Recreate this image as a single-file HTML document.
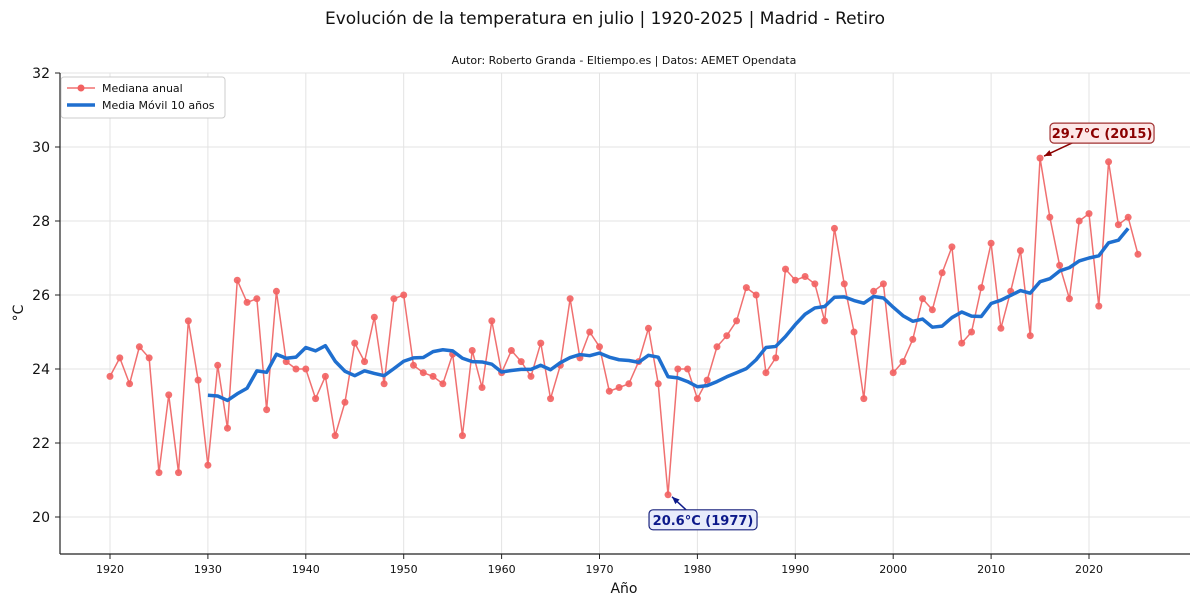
<!DOCTYPE html>
<html><head><meta charset="utf-8"><style>
body{margin:0;background:#fff;}
svg text{font-family:"DejaVu Sans","Liberation Sans",sans-serif;}
</style></head><body>
<svg id="chart" width="1200" height="606" viewBox="0 0 1200 606" xmlns="http://www.w3.org/2000/svg">
<text x="605" y="24" font-size="17" text-anchor="middle" fill="#111">Evolución de la temperatura en julio | 1920-2025 | Madrid - Retiro</text>
<text x="624" y="64" font-size="11" text-anchor="middle" fill="#111">Autor: Roberto Granda - Eltiempo.es | Datos: AEMET Opendata</text>
<g id="grid"></g>
<g id="axes"></g>
<g id="series"></g>
<text x="624" y="593" font-size="14" text-anchor="middle" fill="#111">Año</text>
<text x="23" y="313" font-size="14" text-anchor="middle" fill="#111" transform="rotate(-90 23 313)">°C</text>
<g>
<rect x="61" y="77" width="164" height="41" rx="3" fill="#fff" stroke="#ccc"/>
<line x1="67" y1="88" x2="95" y2="88" stroke="#f07070" stroke-width="1.5"/>
<circle cx="81" cy="88" r="3.5" fill="#f26060"/>
<text x="102" y="92" font-size="11" fill="#111">Mediana anual</text>
<line x1="67" y1="105" x2="95" y2="105" stroke="#1f6fcf" stroke-width="3.5"/>
<text x="102" y="109" font-size="11" fill="#111">Media Móvil 10 años</text>
</g>
<g id="ann"></g>
</svg>
<script>
const years = []; for (let y = 1920; y <= 2025; y++) years.push(y);
const medianTemps = [23.8,24.3,23.6,24.6,24.3,21.2,23.3,21.2,25.3,23.7,
21.4,24.1,22.4,26.4,25.8,25.9,22.9,26.1,24.2,24.0,
24.0,23.2,23.8,22.2,23.1,24.7,24.2,25.4,23.6,25.9,
26.0,24.1,23.9,23.8,23.6,24.4,22.2,24.5,23.5,25.3,
23.9,24.5,24.2,23.8,24.7,23.2,24.1,25.9,24.3,25.0,
24.6,23.4,23.5,23.6,24.2,25.1,23.6,20.6,24.0,24.0,
23.2,23.7,24.6,24.9,25.3,26.2,26.0,23.9,24.3,26.7,
26.4,26.5,26.3,25.3,27.8,26.3,25.0,23.2,26.1,26.3,
23.9,24.2,24.8,25.9,25.6,26.6,27.3,24.7,25.0,26.2,
27.4,25.1,26.1,27.2,24.9,29.7,28.1,26.8,25.9,28.0,
28.2,25.7,29.6,27.9,28.1,27.1];
const yTicks = [20,22,24,26,28,30,32];
const xTicks = [1920,1930,1940,1950,1960,1970,1980,1990,2000,2010,2020];
const windowSize = 10;

const X = v => 110 + (v - 1920) * 9.79;
const Y = v => 517 - (v - 20) * 37;
const NS = 'http://www.w3.org/2000/svg';
function mk(tag, attrs, parent){const e=document.createElementNS(NS,tag);for(const k in attrs)e.setAttribute(k,attrs[k]);parent.appendChild(e);return e;}
const grid=document.getElementById('grid'), axes=document.getElementById('axes'), series=document.getElementById('series'), ann=document.getElementById('ann');

yTicks.forEach(t=>{
  const l=mk('line',{x1:60,x2:1190,y1:Y(t),y2:Y(t),stroke:'#e3e3e3','stroke-width':1},grid);
  
  
  const tk=mk('line',{x1:55,x2:60,y1:Y(t),y2:Y(t),stroke:'#222'},axes);
  
  
  const tx=mk('text',{x:50,y:Y(t)+5,'font-size':14,'text-anchor':'end',fill:'#111'},axes);
  tx.textContent=t;
  
  
});
xTicks.forEach(t=>{
  const l=mk('line',{x1:X(t),x2:X(t),y1:73,y2:554,stroke:'#e3e3e3','stroke-width':1},grid);
  
  
  const tk=mk('line',{x1:X(t),x2:X(t),y1:554,y2:559,stroke:'#222'},axes);
  
  
  const tx=mk('text',{x:X(t),y:573,'font-size':11,'text-anchor':'middle',fill:'#111'},axes);
  tx.textContent=t;
  
  
});
const ys=mk('line',{x1:60,x2:60,y1:73,y2:554,stroke:'#222','stroke-width':1.2},axes);


const xs=mk('line',{x1:60,x2:1190,y1:554,y2:554,stroke:'#222','stroke-width':1.2},axes);



const mp=mk('polyline',{points:years.map((y,i)=>X(y)+','+Y(medianTemps[i])).join(' '),fill:'none',stroke:'#f07070','stroke-width':1.5},series);


years.forEach((y,i)=>{
  const c=mk('circle',{cx:X(y),cy:Y(medianTemps[i]),r:3.5,fill:'#f26060','fill-opacity':0.9},series);
  
  
});
const maPts=[];
for(let i=windowSize;i<years.length-1;i++){
  let s=0;for(let j=i-windowSize+1;j<=i;j++)s+=medianTemps[j];
  maPts.push(X(years[i])+','+Y(s/windowSize));
}
const ma=mk('polyline',{points:maPts.join(' '),fill:'none',stroke:'#1f6fcf','stroke-width':3.5,'stroke-linejoin':'round'},series);



let iMax=0,iMin=0;medianTemps.forEach((v,i)=>{if(v>medianTemps[iMax])iMax=i;if(v<medianTemps[iMin])iMin=i;});
function annot(i,dx,dy,w,sx,sy,fill,stroke,color,name){
  const px=X(years[i]),py=Y(medianTemps[i]);const bx=px+dx,by=py+dy;
  const g=mk('g',{},ann);
  
  
  const ex=px+(dx>0?4:2), ey=py+(dy<0?-2:2);
  const x0=bx+sx,y0=by+sy;
  mk('line',{x1:x0,y1:y0,x2:ex,y2:ey,stroke:color,'stroke-width':1.5},g);
  const ang=Math.atan2(ey-y0,ex-x0);
  const a1=ang+Math.PI-0.4,a2=ang+Math.PI+0.4;
  mk('polygon',{points:`${ex},${ey} ${ex+8*Math.cos(a1)},${ey+8*Math.sin(a1)} ${ex+8*Math.cos(a2)},${ey+8*Math.sin(a2)}`,fill:color},g);
  mk('rect',{x:bx-w/2,y:by-10,width:w,height:20,rx:4,fill:fill,stroke:stroke,'stroke-width':1.2},g);
  const t=mk('text',{x:bx,y:by+5,'font-size':13,'font-weight':'bold','text-anchor':'middle',fill:color},g);
  t.textContent=medianTemps[i].toFixed(1)+'°C ('+years[i]+')';
}
annot(iMax,62,-25,104,-28,9,'#fde8e8','#a03030','#8b0000','annotation-max');
annot(iMin,35,25,108,-17,-10,'#e8ecfb','#1a237e','#0d1a8a','annotation-min');
</script>
</body></html>
